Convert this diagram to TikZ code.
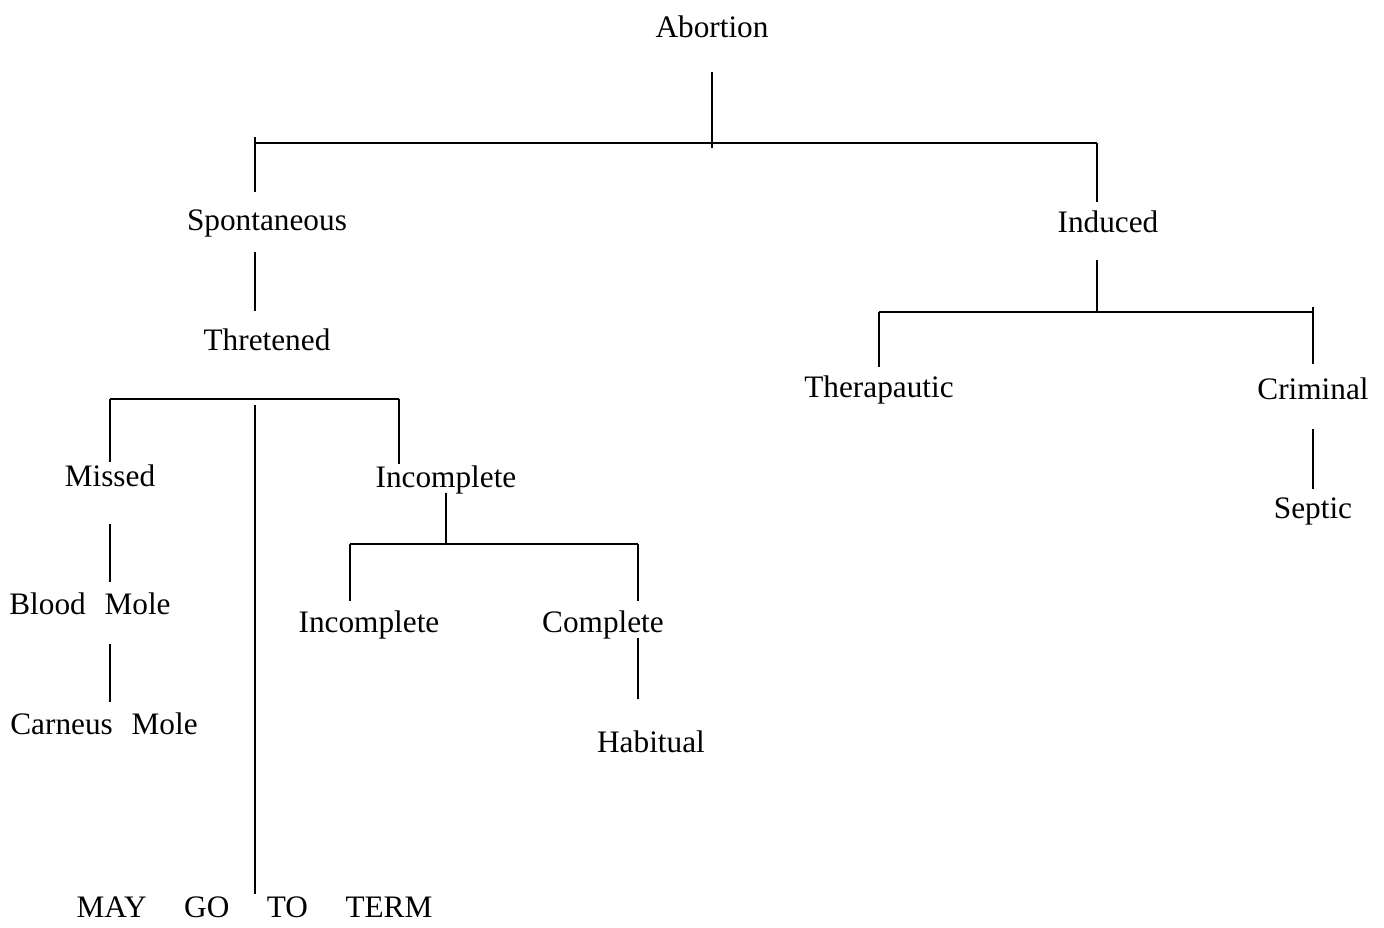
\documentclass[tikz,border=0pt]{standalone}
\usepackage{fontspec}
\setmainfont{Liberation Serif}
\usetikzlibrary{positioning}
\tikzset{
    lbl/.style={anchor=base, inner sep=0pt, text height=0.7em, text depth=0.25em,
        font=\fontsize{17.8}{20}\selectfont}
}
\begin{document}
\begin{tikzpicture}[x=0.02cm, y=-0.02cm, line width=0.8pt]
                        \useasboundingbox (0,0) rectangle (1384,928);
                        \node[lbl] (abort) at (712, 38) {Abortion};
                        \node[lbl] (spont) at (267, 231) {Spontaneous};
                        \node[lbl] (thret) at (267, 351) {Thretened};
                        \node[lbl] (missed) at (110, 487) {Missed};
                        \node[lbl] (incomp) at (446, 488) {Incomplete};
                        \node[lbl] (blood) at (90, 615) {Blood\hspace{0.6em}Mole};
                        \node[lbl] (carneus) at (104, 735) {Carneus\hspace{0.6em}Mole};
                        \node[lbl] (incompb) at (369, 633) {Incomplete};
                        \node[lbl] (compl) at (603, 633) {Complete};
                        \node[lbl] (habit) at (651, 753) {Habitual};
                        \node[lbl, text depth=0pt] (term) at (254.5, 918) {MAY\hspace{1.2em}GO\hspace{1.2em}TO\hspace{1.2em}TERM};
                        \node[lbl] (induced) at (1108, 233) {Induced};
                        \node[lbl] (therap) at (879, 398) {Therapautic};
                        \node[lbl] (crim) at (1313, 400) {Criminal};
                        \node[lbl] (septic) at (1313, 519) {Septic};
                        % bar junctions
                        \coordinate (jA) at (712, 143);
                        \coordinate (jSp) at (255, 143);
                        \coordinate (jIn) at (1097, 143);
                        \coordinate (jMs) at (110, 399);
                        \coordinate (jIc) at (399, 399);
                        \coordinate (jMid) at (255, 399);
                        \coordinate (jSub) at (446, 544);
                        \coordinate (jSubL) at (350, 544);
                        \coordinate (jSubR) at (638, 544);
                        \coordinate (jInd) at (1097, 312);
                        \coordinate (jTh) at (879, 312);
                        \coordinate (jCr) at (1313, 312);
                        \draw
                        (abort.south) edge[shorten <=0.58cm, shorten >=-0.1cm] (jA)
                        (jSp) edge (jIn)
                        (jSp) edge[shorten <=-0.12cm, shorten >=0.52cm] (jSp |- spont.north)
                        (jIn) edge[shorten >=0.36cm] (jIn |- induced.north)
                        (spont.south -| jSp) edge[shorten <=0.32cm, shorten >=0.54cm] (jSp |- thret.north)
                        (jMs) edge (jIc)
                        (jMid) edge[shorten <=0.12cm, shorten >=0.22cm] (term.north -| jMid)
                        (jMs) edge[shorten >=0.24cm] (missed.north)
                        (jIc) edge[shorten >=0.22cm] (jIc |- incomp.north)
                        (incomp.south) edge (jSub)
                        (jSubL) edge (jSubR)
                        (jSubL) edge[shorten >=0.38cm] (jSubL |- incompb.north)
                        (jSubR) edge[shorten >=0.38cm] (jSubR |- compl.north)
                        (compl.south -| jSubR) edge[shorten >=0.82cm] (jSubR |- habit.north)
                        (missed.south) edge[shorten <=0.64cm, shorten >=0.4cm] (missed.south |- blood.north)
                        (blood.south -| missed) edge[shorten <=0.48cm, shorten >=0.4cm] (missed |- carneus.north)
                        (induced.south -| jIn) edge[shorten <=0.44cm] (jInd)
                        (jTh) edge (jCr)
                        (jTh) edge[shorten >=0.36cm] (therap.north)
                        (jCr) edge[shorten <=-0.1cm, shorten >=0.46cm] (crim.north)
                        (crim.south) edge[shorten <=0.48cm, shorten >=0.34cm] (septic.north);
                    \end{tikzpicture}
\end{document}
